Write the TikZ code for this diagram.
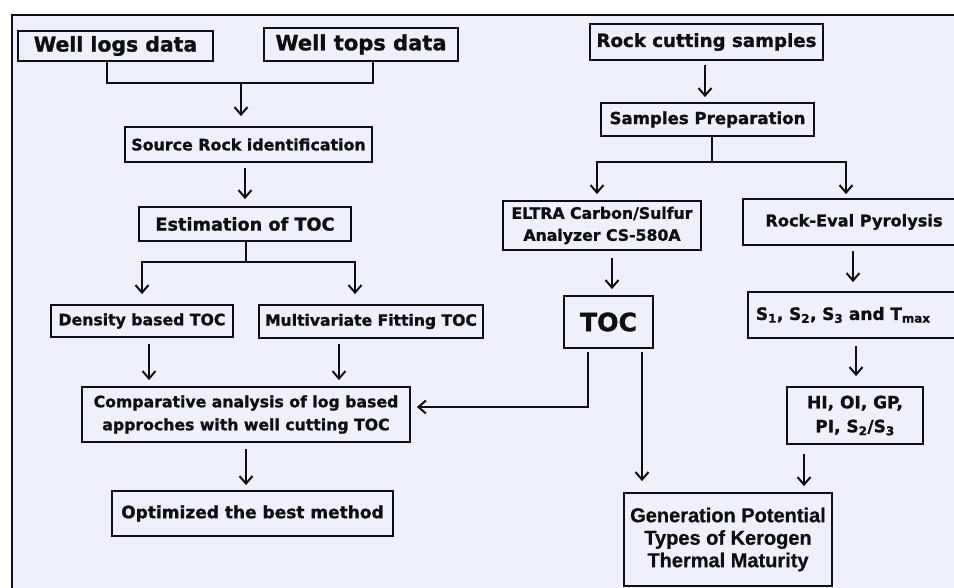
\documentclass[tikz,border=0pt]{standalone}
\usepackage{fontspec}
\setmainfont{DejaVu Sans}[BoldFeatures={FakeBold=1.2}]
\newfontfamily\genfont{Liberation Sans}[BoldFeatures={FakeBold=0.8}]
\usetikzlibrary{arrows.meta}
\definecolor{bgl}{RGB}{240,240,252}
\definecolor{ink}{RGB}{15,15,15}
\newcommand{\fsz}[2]{\fontsize{#1}{#2}\selectfont}
\tikzset{
  box/.style={draw=ink, line width=1.8pt, rectangle, inner sep=0pt, align=center, text=ink},
  ln/.style={draw=ink, line width=1.8pt},
  arr/.style={ln, -{Straight Barb[length=7.5pt,width=13pt,line width=2pt]}},
}
\begin{document}
\begin{tikzpicture}[x=1pt,y=-1pt]
\clip (0,0) rectangle (954,588);
\fill[white] (0,0) rectangle (954,588);
\draw[fill=bgl, draw=ink, line width=2.5pt] (12,15) rectangle (990,620);

% left column
\node[box, minimum width=195pt, minimum height=30pt, font=\bfseries\fsz{20.4}{24}] (wl) at (115.5,46) {Well logs data};
\node[box, minimum width=194pt, minimum height=33pt, font=\bfseries\fsz{21}{24}] (wt) at (361,44.5) {Well tops data};
\node[box, minimum width=247pt, minimum height=35pt, font=\bfseries\fsz{15.85}{20}] (sr) at (248.5,144.5) {Source Rock identification};
\node[box, minimum width=212pt, minimum height=34pt, font=\bfseries\fsz{17.7}{20}] (est) at (245,224) {Estimation of TOC};
\node[box, minimum width=182pt, minimum height=32pt, font=\bfseries\fsz{15.7}{20}] (den) at (142,321) {Density based TOC};
\node[box, minimum width=224pt, minimum height=33pt, font=\bfseries\fsz{15.6}{20}] (mv) at (371,321.5) {Multivariate Fitting TOC};
\node[box, minimum width=328pt, minimum height=55pt, font=\bfseries\fsz{15.7}{23}] (cmp) at (246,414.5) {Comparative analysis of log based\\approches with well cutting TOC};
\node[box, minimum width=281pt, minimum height=45pt, font=\bfseries\fsz{17}{20}] (opt) at (252.5,513.5) {Optimized the best method};

% right column
\node[box, minimum width=233pt, minimum height=36pt, font=\bfseries\fsz{18.2}{20}] (rcs) at (706.5,42) {Rock cutting samples};
\node[box, minimum width=213pt, minimum height=33pt, font=\bfseries\fsz{16.6}{20}] (sp) at (707.5,119.5) {Samples Preparation};
\node[box, minimum width=198pt, minimum height=49pt, font=\bfseries\fsz{15.7}{22}] (eltra) at (602,225.5) {ELTRA Carbon/Sulfur\\Analyzer CS-580A};
\node[box, minimum width=222pt, minimum height=46pt, font=\bfseries\fsz{16.2}{20}] (rev) at (854,222) {Rock-Eval Pyrolysis};
\node[box, minimum width=89pt, minimum height=52pt, font=\bfseries\fsz{25.2}{28}] (toc) at (608.5,322) {TOC};
\node[box, anchor=west, text width=202pt, inner xsep=8pt, minimum height=46pt, align=left, font=\bfseries\fsz{17}{20}] (sv) at (747,315) {S\textsubscript{1}, S\textsubscript{2}, S\textsubscript{3} and T\textsubscript{max}};
\node[box, minimum width=136pt, minimum height=57pt, font=\bfseries\fsz{17}{24}] (hi) at (855,415.5) {HI, OI, GP,\\PI, S\textsubscript{2}/S\textsubscript{3}};
\node[box, minimum width=208pt, minimum height=93pt, font=\genfont\bfseries\fsz{20}{22.5}] (gen) at (728,539.5) {Generation Potential\\Types of Kerogen\\Thermal Maturity};

% connectors left
\coordinate (m1) at (241,83);
\draw[ln] ([xshift=-8.5pt]wl.south) |- (m1) -| ([xshift=12pt]wt.south);
\draw[arr, shorten >=10pt] (m1) -- (m1 |- sr.north);
\draw[arr, shorten <=5pt, shorten >=7pt] (sr.south -| est.north) -- (est.north);
\coordinate (s1) at (246,262);
\draw[ln] (s1 |- est.south) -- (s1);
\draw[arr, shorten >=10pt] (s1) -| (den.north);
\draw[arr, shorten >=10pt] (s1) -| ([xshift=-16pt]mv.north);
\draw[arr, shorten <=6pt, shorten >=6pt] ([xshift=7pt]den.south) -- ([xshift=7pt]den.south |- cmp.north);
\draw[arr, shorten <=5pt, shorten >=6pt] ([xshift=-32pt]mv.south) -- ([xshift=-32pt]mv.south |- cmp.north);
\draw[arr, shorten <=6pt, shorten >=5pt] (cmp.south) -- (cmp.south |- opt.north);
\draw[arr, shorten <=3pt, shorten >=6pt] ([xshift=-20.5pt]toc.south) |- ([yshift=7.5pt]cmp.east);

% connectors right
\draw[arr, shorten <=4pt, shorten >=5pt] ([xshift=-1.5pt]rcs.south) -- ([xshift=-1.5pt]rcs.south |- sp.north);
\coordinate (s2) at (712,162);
\draw[ln] (s2 |- sp.south) -- (s2);
\draw[arr, shorten >=6pt] (s2) -| ([xshift=-5pt]eltra.north);
\draw[arr, shorten >=4pt] (s2) -| ([xshift=-8pt]rev.north);
\draw[arr, shorten <=7pt, shorten >=6pt] ([xshift=10pt]eltra.south) -- ([xshift=10pt]eltra.south |- toc.north);
\draw[arr, shorten <=5pt, shorten >=9pt] ([xshift=-1pt]rev.south) -- ([xshift=-1pt]rev.south |- sv.north);
\draw[arr, shorten <=7pt, shorten >=10pt] ([xshift=1pt]hi.north |- sv.south) -- ([xshift=1pt]hi.north);
\draw[arr, shorten <=9pt, shorten >=6pt] ([xshift=-51pt]hi.south) -- ([xshift=-51pt]hi.south |- gen.north);
\draw[arr, shorten <=3pt, shorten >=11pt] ([xshift=33.5pt]toc.south) -- ([xshift=33.5pt]toc.south |- gen.north);
\end{tikzpicture}
\end{document}
